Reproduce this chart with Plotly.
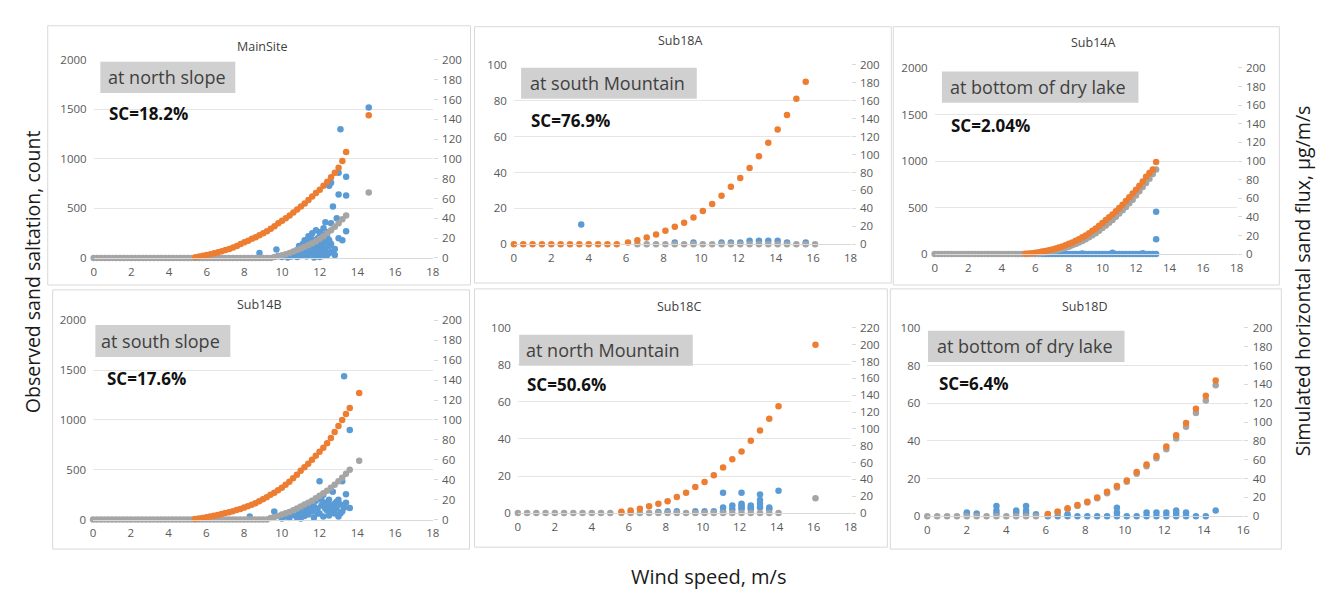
import plotly.graph_objects as go

W, H = 1325, 590
FONT = "Open Sans"
BLUE, ORANGE, GRAY = "#5B9BD5", "#ED7D31", "#A5A5A5"

# ---------------- data ----------------
# MainSite
ms_blue_x = [8.8, 9.7, 9.8, 10.0, 10.2, 10.3, 10.4, 10.5, 10.6, 10.7, 10.8, 10.8, 10.9, 10.9, 11.0, 11.0, 11.1, 11.1, 11.2, 11.2,
             11.3, 11.3, 11.4, 11.4, 11.5, 11.5, 11.6, 11.6, 11.7, 11.7, 11.8, 11.8, 11.9, 11.9, 12.0, 12.0, 12.0, 12.1, 12.1, 12.2,
             12.2, 12.2, 12.3, 12.3, 12.4, 12.4, 12.5, 12.5, 12.6, 12.6, 12.6, 12.7, 12.8, 12.9, 13.0, 13.0, 13.0, 13.1, 13.2, 13.4,
             13.4, 13.4, 14.6,
             11.0, 11.2, 11.4, 11.6, 11.8, 12.0, 12.1, 12.2, 12.3, 12.4, 12.5, 12.6, 11.5, 11.7, 11.9, 12.1, 12.3, 12.5, 12.7, 12.8]
ms_blue_y = [50, 85, 20, 10, 25, 5, 40, 15, 60, 30, 80, 10, 45, 120, 100, 20, 140, 70, 60, 180,
             90, 15, 220, 30, 120, 180, 250, 70, 160, 5, 280, 40, 200, 90, 260, 110, 10, 190, 60, 150,
             300, 20, 360, 90, 210, 30, 120, 730, 760, 350, 60, 520, 90, 400, 860, 640, 200, 1300, 180, 820,
             630, 270, 1520,
             50, 110, 150, 190, 130, 220, 240, 80, 170, 260, 50, 140, 40, 90, 150, 120, 230, 180, 60, 30]
ms_gray_x = [0.0, 0.2, 0.4, 0.6, 0.8, 1.0, 1.2, 1.4, 1.6, 1.8, 2.0, 2.2, 2.4, 2.6, 2.8, 3.0, 3.2, 3.4, 3.6, 3.8,
             4.0, 4.2, 4.4, 4.6, 4.8, 5.0, 5.2, 5.4, 5.6, 5.8, 6.0, 6.2, 6.4, 6.6, 6.8, 7.0, 7.2, 7.4, 7.6, 7.8,
             8.0, 8.2, 8.4, 8.6, 8.8, 9.0, 9.2, 9.4, 9.6, 9.8, 10.0, 10.2, 10.4, 10.6, 10.8, 11.0, 11.2, 11.4, 11.6, 11.8,
             12.0, 12.2, 12.4, 12.6, 12.8, 13.0, 13.2, 13.4, 14.6]
ms_gray_y = [0, 0, 0, 0, 0, 0, 0, 0, 0, 0, 0, 0, 0, 0, 0, 0, 0, 0, 0, 0,
             0, 0, 0, 0, 0, 0, 0, 0, 0, 0, 0, 0, 0, 0, 0, 0, 0, 0, 0, 0,
             0, 0, 0, 0, 0, 0, 0, 0, 1, 1.8, 2.8, 3.9, 5.1, 6.5, 8, 9.6, 11.3, 13.1, 15, 17,
             19.5, 22, 25, 28, 31.5, 35, 39, 43, 66]
ms_org_x = [5.4, 5.6, 5.8, 6.0, 6.2, 6.4, 6.6, 6.8, 7.0, 7.2, 7.4, 7.6, 7.8, 8.0, 8.2, 8.4, 8.6, 8.8, 9.0, 9.2,
            9.4, 9.6, 9.8, 10.0, 10.2, 10.4, 10.6, 10.8, 11.0, 11.2, 11.4, 11.6, 11.8, 12.0, 12.2, 12.4, 12.6, 12.8, 13.0, 13.2,
            13.4, 14.6]
ms_org_y = [0.8, 1.4, 2.2, 3, 3.8, 4.7, 5.7, 6.8, 8, 9.2, 10.5, 12, 14, 16, 17.5, 19.5, 21, 23, 25, 27,
            29.5, 32, 35, 37.5, 40, 43, 46, 49, 52, 55, 58.5, 62, 65.5, 69, 73, 77, 81.5, 86, 91, 98,
            107, 144]

# Sub18A
s18a_blue_x = [3.6, 8.6, 9.6, 11.1, 11.6, 12.1, 12.6, 13.1, 13.6, 14.1, 14.6, 15.6]
s18a_blue_y = [11, 1, 1, 1, 1, 1, 2, 2, 2, 2, 1, 1]
s18a_gray_x = [6.6, 7.1, 7.6, 8.1, 8.6, 9.1, 9.6, 10.1, 10.6, 11.1, 11.6, 12.1, 12.6, 13.1, 13.6, 14.1, 14.6, 15.1, 15.6, 16.1]
s18a_gray_y = [0, 0, 0, 0, 0, 0, 0, 0, 0, 0, 0, 0, 0, 0, 0, 0, 0, 0, 0, 0]
s18a_org_x = [0.0, 0.5, 1.0, 1.5, 2.0, 2.5, 3.0, 3.5, 4.0, 4.5, 5.0, 5.5, 6.1, 6.6, 7.1, 7.6, 8.1, 8.6, 9.1, 9.6,
              10.1, 10.6, 11.1, 11.6, 12.1, 12.6, 13.1, 13.6, 14.1, 14.6, 15.1, 15.6]
s18a_org_y = [0, 0, 0, 0, 0, 0, 0, 0, 0, 0, 0, 0, 2, 4.5, 7.5, 11, 15, 19.5, 24, 30,
              37, 45, 54, 64, 74, 85, 98, 113, 128, 144, 162, 181]

# Sub14A
sa_blue_x = [6.0, 6.2, 6.4, 6.6, 6.8, 7.0, 7.2, 7.4, 7.6, 7.8, 8.0, 8.2, 8.4, 8.6, 8.8, 9.0, 9.2, 9.4, 9.6, 9.8,
             10.0, 10.2, 10.4, 10.6, 10.8, 11.0, 11.2, 11.4, 11.6, 11.8, 12.0, 12.2, 12.4, 12.6, 12.8, 13.0, 13.2,
             13.2, 13.2, 10.6, 12.4, 8.8]
sa_blue_y = [0, 0, 0, 0, 0, 0, 0, 0, 0, 0, 0, 0, 0, 0, 0, 0, 0, 0, 0, 0,
             0, 0, 0, 0, 0, 0, 0, 0, 0, 0, 0, 0, 0, 0, 0, 0, 0,
             455, 160, 15, 10, 5]
sa_gray_x = [0.0, 0.2, 0.4, 0.6, 0.8, 1.0, 1.2, 1.4, 1.6, 1.8, 2.0, 2.2, 2.4, 2.6, 2.8, 3.0, 3.2, 3.4, 3.6, 3.8,
             4.0, 4.2, 4.4, 4.6, 4.8, 5.0, 5.2, 5.4, 5.6, 5.8, 6.0, 6.2, 6.4, 6.6, 6.8, 7.0, 7.2, 7.4, 7.6, 7.8,
             8.0, 8.2, 8.4, 8.6, 8.8, 9.0, 9.2, 9.4, 9.6, 9.8, 10.0, 10.2, 10.4, 10.6, 10.8, 11.0, 11.2, 11.4, 11.6, 11.8,
             12.0, 12.2, 12.4, 12.6, 12.8, 13.0, 13.2]
sa_gray_y = [0, 0, 0, 0, 0, 0, 0, 0, 0, 0, 0, 0, 0, 0, 0, 0, 0, 0, 0, 0,
             0, 0, 0, 0, 0, 0, 0, 0, 0, 0, 0, 0.5, 1, 1.6, 2.3, 3, 3.8, 4.7, 5.7, 6.8,
             8, 9.4, 10.8, 12.4, 14, 16, 18, 20.2, 22.5, 25, 28, 30.8, 33.6, 36.6, 40, 43.5, 47, 50.6, 54.5, 58.5,
             63, 67.5, 72, 76.5, 81, 86, 91]
sa_org_x = [5.4, 5.6, 5.8, 6.0, 6.2, 6.4, 6.6, 6.8, 7.0, 7.2, 7.4, 7.6, 7.8, 8.0, 8.2, 8.4, 8.6, 8.8, 9.0, 9.2,
            9.4, 9.6, 9.8, 10.0, 10.2, 10.4, 10.6, 10.8, 11.0, 11.2, 11.4, 11.6, 11.8, 12.0, 12.2, 12.4, 12.6, 12.8, 13.0, 13.2]
sa_org_y = [0.3, 0.6, 1, 1.5, 2, 2.7, 3.4, 4.2, 5, 6, 7, 8.2, 9.6, 11, 12.5, 14.2, 16, 18, 20, 22.5,
            25, 27.5, 30.5, 33.5, 36.5, 39.5, 42.5, 46, 49.5, 53, 57, 61, 65, 69, 73.5, 78, 83, 87, 91, 99]

# Sub14B
sb_blue_x = [8.3, 9.6, 10.0, 10.2, 10.4, 10.6, 10.8, 10.9, 11.0, 11.1, 11.2, 11.3, 11.4, 11.5, 11.6, 11.7, 11.8, 11.9, 12.0, 12.0,
             12.0, 12.1, 12.2, 12.2, 12.3, 12.4, 12.5, 12.5, 12.6, 12.7, 12.8, 12.8, 12.9, 13.0, 13.0, 13.1, 13.2, 13.2, 13.3, 13.4,
             13.4, 13.6, 13.6,
             11.0, 11.3, 11.5, 11.7, 11.9, 12.1, 12.3, 12.5, 12.7, 12.9, 13.1, 13.3]
sb_blue_y = [30, 80, 10, 30, 15, 45, 20, 60, 10, 90, 35, 120, 50, 150, 80, 20, 190, 110, 385, 220,
             60, 140, 250, 30, 170, 90, 200, 40, 130, 280, 160, 60, 110, 200, 30, 150, 385, 80, 1440, 255,
             170, 900, 115,
             40, 70, 100, 130, 60, 200, 110, 150, 90, 180, 60, 120]
sb_gray_x = [0.0, 0.2, 0.4, 0.6, 0.8, 1.0, 1.2, 1.4, 1.6, 1.8, 2.0, 2.2, 2.4, 2.6, 2.8, 3.0, 3.2, 3.4, 3.6, 3.8,
             4.0, 4.2, 4.4, 4.6, 4.8, 5.0, 5.2, 5.4, 5.6, 5.8, 6.0, 6.2, 6.4, 6.6, 6.8, 7.0, 7.2, 7.4, 7.6, 7.8,
             8.0, 8.2, 8.4, 8.6, 8.8, 9.0, 9.2, 9.4, 9.6, 9.8, 10.0, 10.2, 10.4, 10.6, 10.8, 11.0, 11.2, 11.4, 11.6, 11.8,
             12.0, 12.2, 12.4, 12.6, 12.8, 13.0, 13.2, 13.4, 13.6, 14.1]
sb_gray_y = [0, 0, 0, 0, 0, 0, 0, 0, 0, 0, 0, 0, 0, 0, 0, 0, 0, 0, 0, 0,
             0, 0, 0, 0, 0, 0, 0, 0, 0, 0, 0, 0, 0, 0, 0, 0, 0, 0, 0, 0,
             0, 0, 0, 0, 0, 0, 0, 1.5, 2.5, 3.7, 5, 6.3, 7.7, 9.3, 11, 13, 15, 17, 19, 21.5,
             24, 26.5, 29, 32, 35, 38.5, 42, 46, 50, 59]
sb_org_x = [5.4, 5.6, 5.8, 6.0, 6.2, 6.4, 6.6, 6.8, 7.0, 7.2, 7.4, 7.6, 7.8, 8.0, 8.2, 8.4, 8.6, 8.8, 9.0, 9.2,
            9.4, 9.6, 9.8, 10.0, 10.2, 10.4, 10.6, 10.8, 11.0, 11.2, 11.4, 11.6, 11.8, 12.0, 12.2, 12.4, 12.6, 12.8, 13.0, 13.2,
            13.4, 13.6, 14.1]
sb_org_y = [0.5, 1, 1.6, 2.3, 3, 3.8, 4.6, 5.5, 6.5, 7.4, 8.4, 9.5, 10.7, 12, 13.4, 14.9, 16.5, 18.4, 20.5, 22.5,
            25, 27, 29.5, 32, 35, 38, 41.5, 45, 49, 52.5, 56, 60, 64, 68, 72, 76.5, 82, 88, 94, 100,
            106, 112, 127]

# Sub18C
s18c_blue_x = [7.6, 8.1, 8.6, 9.6, 10.1, 10.6, 11.1, 11.1, 11.1, 11.6, 11.6, 12.1, 12.1, 12.1, 12.1, 12.1, 12.6, 12.6, 12.6, 13.1,
               13.1, 13.1, 13.1, 13.6, 13.6, 14.1]
s18c_blue_y = [0.5, 1, 1, 1, 1, 1, 11, 3, 1, 4, 2, 11, 5, 4, 3, 2, 4, 3, 2, 10,
               7, 5, 3, 3, 2, 12]
s18c_gray_x = [0.0, 0.5, 1.0, 1.5, 2.0, 2.5, 3.0, 3.5, 4.0, 4.5, 5.0, 5.6, 6.1, 6.6, 7.1, 7.6, 8.1, 8.6, 9.1, 9.6,
               10.1, 10.6, 11.1, 11.6, 12.1, 12.6, 13.1, 13.6, 14.1, 16.1]
s18c_gray_y = [0, 0, 0, 0, 0, 0, 0, 0, 0, 0, 0, 0, 0, 0, 0, 0, 0, 0, 0, 0,
               0, 0, 0, 0, 0, 0, 0, 0, 0, 17.5]
s18c_org_x = [5.6, 6.1, 6.6, 7.1, 7.6, 8.1, 8.6, 9.1, 9.6, 10.1, 10.6, 11.1, 11.6, 12.1, 12.6, 13.1, 13.6, 14.1, 16.1]
s18c_org_y = [1.5, 3, 5, 8, 11, 14, 19, 24, 31, 37, 45, 54, 64, 73, 86, 98, 112, 127, 200]

# Sub18D
s18d_blue_x = [2.0, 2.0, 2.5, 3.5, 3.5, 3.5, 4.5, 4.5, 5.0, 5.0, 5.0, 5.5, 6.1, 6.6, 7.1, 7.1, 7.6, 8.1, 8.6, 9.1,
               9.6, 9.6, 9.6, 10.1, 10.6, 11.1, 11.1, 11.6, 11.6, 12.1, 12.1, 12.6, 12.6, 12.6, 13.1, 13.1, 13.6, 14.1, 14.6]
s18d_blue_y = [2, 1, 1.5, 5.5, 3, 1.5, 3, 2, 5.5, 3, 1.5, 1, 0, 0, 0, 1, 0, 0, 0, 0,
               0, 2, 4.5, 0, 0, 0, 2, 0, 2, 0, 2, 0, 3, 1.5, 0, 2, 0, 0, 3]
s18d_gray_x = [0.0, 0.5, 1.0, 1.5, 2.0, 2.5, 3.0, 3.5, 4.0, 4.5, 5.0, 5.5, 6.1, 6.6, 7.1, 7.6, 8.1, 8.6, 9.1, 9.6,
               10.1, 10.6, 11.1, 11.6, 12.1, 12.6, 13.1, 13.6, 14.1, 14.6]
s18d_gray_y = [0, 0, 0, 0, 0, 0, 0, 0, 0, 0, 0, 0, 1.5, 4.3, 7.8, 11, 14.5, 19, 24.5, 30.5,
               36.5, 45, 53, 61.5, 71, 82.5, 95, 109.5, 123, 139]
s18d_org_x = [6.1, 6.6, 7.1, 7.6, 8.1, 8.6, 9.1, 9.6, 10.1, 10.6, 11.1, 11.6, 12.1, 12.6, 13.1, 13.6, 14.1, 14.6]
s18d_org_y = [2.4, 5, 8.6, 12, 15.5, 20, 26, 32, 38, 47, 55, 64, 74, 86, 99, 114, 128, 144]

panel_titles = ["MainSite", "Sub18A", "Sub14A", "Sub14B", "Sub18C", "Sub18D"]
site_labels = ["at north slope", "at south Mountain", "at bottom of dry lake",
               "at south slope", "at north Mountain", "at bottom of dry lake"]
sc_labels = ["SC=18.2%", "SC=76.9%", "SC=2.04%", "SC=17.6%", "SC=50.6%", "SC=6.4%"]
x_max = [18, 18, 18, 18, 18, 16]
left_max = [2000, 100, 2000, 2000, 100, 100]
left_step = [500, 20, 500, 500, 20, 20]
right_max = [200, 200, 200, 200, 220, 200]

series = [
    ((ms_blue_x, ms_blue_y), (ms_gray_x, ms_gray_y), (ms_org_x, ms_org_y)),
    ((s18a_blue_x, s18a_blue_y), (s18a_gray_x, s18a_gray_y), (s18a_org_x, s18a_org_y)),
    ((sa_blue_x, sa_blue_y), (sa_gray_x, sa_gray_y), (sa_org_x, sa_org_y)),
    ((sb_blue_x, sb_blue_y), (sb_gray_x, sb_gray_y), (sb_org_x, sb_org_y)),
    ((s18c_blue_x, s18c_blue_y), (s18c_gray_x, s18c_gray_y), (s18c_org_x, s18c_org_y)),
    ((s18d_blue_x, s18d_blue_y), (s18d_gray_x, s18d_gray_y), (s18d_org_x, s18d_org_y)),
]

# ---------------- layout geometry (pixels) ----------------
plot_px = [(83.3, 45, 425, 248.3), (506.7, 50, 846, 234.3), (930.7, 53.3, 1235, 244.3),
           (82.7, 312.3, 425, 516.7), (510.7, 320, 846, 510), (923.3, 320, 1241.7, 513.3)]
frame_px = [(37, 10, 463, 276), (467, 11, 887, 274), (889, 11, 1278, 276),
            (42, 281, 462, 547), (467, 280, 883, 545), (886, 280, 1280, 547)]
box_px = [(90, 47, 226, 79), (514, 53, 691, 85), (938, 57, 1136, 89),
          (85, 317, 221, 350), (512, 327, 687, 359), (924, 323, 1122, 355)]
label_pos = [(96, 63), (521, 69), (944, 73), (89, 333), (517, 343), (931, 339)]
sc_pos = [(97, 100), (522, 107), (945, 112), (95, 372), (518, 378), (933, 377)]
title_pos = [(253, 31), (674, 25), (1090, 27), (250, 296), (673, 298), (1082, 298)]


def fx(x):
    return x / W


def fy(y):
    return 1 - y / H


fig = go.Figure()
layout = {}
shapes = []
annotations = []
TICKFONT = dict(family=FONT, size=11.5, color="#595959")

for i in range(6):
    n = i + 1
    xs = "" if n == 1 else str(n)
    yl = "" if n == 1 else str(n)
    yr = str(n + 6)
    x0, y0, x1, y1 = plot_px[i]
    (bx, by), (gx, gy), (ox, oy) = series[i]
    mk = dict(size=6.5, line=dict(width=0))
    fig.add_trace(go.Scatter(x=bx, y=by, mode="markers", marker=dict(color=BLUE, **mk),
                             xaxis="x" + xs, yaxis="y" + yl, cliponaxis=False, showlegend=False))
    fig.add_trace(go.Scatter(x=gx, y=gy, mode="markers", marker=dict(color=GRAY, **mk),
                             xaxis="x" + xs, yaxis="y" + yr, cliponaxis=False, showlegend=False))
    fig.add_trace(go.Scatter(x=ox, y=oy, mode="markers", marker=dict(color=ORANGE, **mk),
                             xaxis="x" + xs, yaxis="y" + yr, cliponaxis=False, showlegend=False))

    layout["xaxis" + xs] = dict(domain=[fx(x0), fx(x1)], anchor="y" + yl, range=[0, x_max[i]],
                                dtick=2, tick0=0, showgrid=False, zeroline=False, showline=True,
                                linecolor="#D9D9D9", linewidth=1, ticks="", tickfont=TICKFONT,
                                ticklabelstandoff=3)
    layout["yaxis" + yl] = dict(domain=[fy(y1), fy(y0)], anchor="x" + xs, range=[0, left_max[i]],
                                dtick=left_step[i], tick0=0, showgrid=True, gridcolor="#E6E6E6",
                                gridwidth=1, zeroline=False, showline=False, ticks="",
                                tickfont=TICKFONT, ticklabelstandoff=6)
    layout["yaxis" + yr] = dict(overlaying="y" + yl, side="right", anchor="x" + xs,
                                range=[0, right_max[i]], dtick=20, tick0=0, showgrid=False,
                                zeroline=False, showline=False, ticks="outside", ticklen=4,
                                tickcolor="#D9D9D9", tickfont=TICKFONT, ticklabelstandoff=2)

    fx0, fy0, fx1, fy1 = frame_px[i]
    shapes.append(dict(type="rect", xref="paper", yref="paper", x0=fx(fx0), x1=fx(fx1),
                       y0=fy(fy1), y1=fy(fy0), line=dict(color="#D9D9D9", width=1),
                       fillcolor="rgba(0,0,0,0)", layer="below"))
    bx0, by0, bx1, by1 = box_px[i]
    shapes.append(dict(type="rect", xref="paper", yref="paper", x0=fx(bx0), x1=fx(bx1),
                       y0=fy(by1), y1=fy(by0), line=dict(width=0), fillcolor="#D0D0D0",
                       layer="above"))
    lx, ly = label_pos[i]
    annotations.append(dict(xref="paper", yref="paper", x=fx(lx), y=fy(ly), xanchor="left",
                            yanchor="middle", showarrow=False, text=site_labels[i],
                            font=dict(family=FONT, size=18, color="#404040")))
    sx, sy = sc_pos[i]
    annotations.append(dict(xref="paper", yref="paper", x=fx(sx), y=fy(sy), xanchor="left",
                            yanchor="middle", showarrow=False, text="<b>" + sc_labels[i] + "</b>",
                            font=dict(family=FONT, size=17, color="#111111")))
    tx, ty = title_pos[i]
    annotations.append(dict(xref="paper", yref="paper", x=fx(tx), y=fy(ty), xanchor="center",
                            yanchor="middle", showarrow=False, text=panel_titles[i],
                            font=dict(family=FONT, size=12.5, color="#404040")))

annotations.append(dict(xref="paper", yref="paper", x=fx(22), y=fy(262), xanchor="center",
                        yanchor="middle", showarrow=False, textangle=-90,
                        text="Observed sand saltation, count",
                        font=dict(family=FONT, size=19.5, color="#1A1A1A")))
annotations.append(dict(xref="paper", yref="paper", x=fx(1301), y=fy(272), xanchor="center",
                        yanchor="middle", showarrow=False, textangle=-90,
                        text="Simulated horizontal sand flux, μg/m/s",
                        font=dict(family=FONT, size=19.5, color="#1A1A1A")))
annotations.append(dict(xref="paper", yref="paper", x=fx(703), y=fy(575), xanchor="center",
                        yanchor="middle", showarrow=False, text="Wind speed, m/s",
                        font=dict(family=FONT, size=20, color="#1A1A1A")))

fig.update_layout(width=W, height=H, autosize=False, margin=dict(l=0, r=0, t=0, b=0),
                  paper_bgcolor="white", plot_bgcolor="white", showlegend=False,
                  shapes=shapes, annotations=annotations, font=dict(family=FONT), **layout)

fig.write_html("out.html")
